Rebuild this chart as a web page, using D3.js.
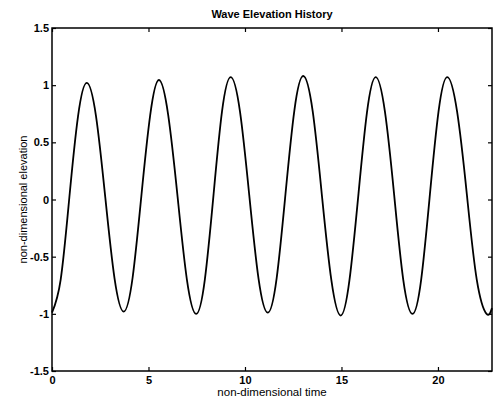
<!DOCTYPE html>
<html>
<head>
<meta charset="utf-8">
<script src="https://cdn.jsdelivr.net/npm/d3@7"></script>
<style>
  body { margin: 0; background: #fff; }
  svg { display: block; font-family: "Liberation Sans", Arial, sans-serif; }
</style>
</head>
<body>
<div id="chart"></div>
<script>
// Wave elevation samples (time, elevation)
const times = [
  0.00, 0.45, 0.90, 1.35, 1.80, 2.28, 2.76, 3.24, 3.72,
  4.18, 4.63, 5.09, 5.54, 6.02, 6.51, 6.99, 7.47,
  7.92, 8.37, 8.81, 9.26, 9.74, 10.22, 10.70, 11.18,
  11.64, 12.10, 12.56, 13.02, 13.51, 13.99, 14.48, 14.96,
  15.41, 15.87, 16.32, 16.77, 17.25, 17.73, 18.20, 18.68,
  19.13, 19.58, 20.03, 20.48, 20.99, 21.50, 22.01, 22.52, 22.80
];
const elevation = [
  -0.99, -0.70, 0.02, 0.73, 1.02, 0.73, 0.02, -0.69, -0.98,
  -0.68, 0.03, 0.74, 1.045, 0.74, 0.02, -0.70, -1.00,
  -0.70, 0.04, 0.77, 1.07, 0.77, 0.04, -0.69, -0.99,
  -0.69, 0.05, 0.78, 1.08, 0.77, 0.03, -0.71, -1.015,
  -0.71, 0.03, 0.76, 1.07, 0.77, 0.04, -0.70, -1.00,
  -0.70, 0.04, 0.77, 1.07, 0.77, 0.04, -0.70, -1.00, -0.95
];
const xTicks = [0, 5, 10, 15, 20];
const yTicks = [-1.5, -1, -0.5, 0, 0.5, 1, 1.5];

const width = 501, height = 403;
const margin = { top: 28, right: 9, bottom: 32, left: 52 };
const w = width - margin.left - margin.right;
const h = height - margin.top - margin.bottom;

const svg = d3.select("#chart").append("svg")
  .attr("width", width)
  .attr("height", height);

const g = svg.append("g")
  .attr("transform", `translate(${margin.left},${margin.top})`);

const x = d3.scaleLinear().domain([0, 22.8]).range([0, w]);
const y = d3.scaleLinear().domain([-1.5, 1.5]).range([h, 0]);

const fmt = d => String(d);

// axes with inward ticks on all four sides (box style)
function styleAxis(sel) {
  sel.select(".domain").remove();
  sel.selectAll("line").attr("stroke", "#000").attr("stroke-width", 1.2);
  sel.selectAll("text").attr("fill", "#000").style("font-size", "11px").style("font-weight", "bold");
}

g.append("g")
  .attr("transform", `translate(0,${h})`)
  .call(d3.axisBottom(x).tickValues(xTicks).tickFormat(fmt).tickSizeInner(-4).tickSizeOuter(0).tickPadding(5))
  .call(styleAxis);

g.append("g")
  .call(d3.axisTop(x).tickValues(xTicks).tickFormat("").tickSizeInner(-4).tickSizeOuter(0))
  .call(styleAxis);

g.append("g")
  .call(d3.axisLeft(y).tickValues(yTicks).tickFormat(fmt).tickSizeInner(-4).tickSizeOuter(0).tickPadding(3))
  .call(styleAxis);

g.append("g")
  .attr("transform", `translate(${w},0)`)
  .call(d3.axisRight(y).tickValues(yTicks).tickFormat("").tickSizeInner(-4).tickSizeOuter(0))
  .call(styleAxis);

// frame
g.append("rect")
  .attr("width", w)
  .attr("height", h)
  .attr("fill", "none")
  .attr("stroke", "#000")
  .attr("stroke-width", 1.5);

// the wave
const pts = times.map((t, i) => [t, elevation[i]]);
g.append("path")
  .datum(pts)
  .attr("fill", "none")
  .attr("stroke", "#000")
  .attr("stroke-width", 1.8)
  .attr("d", d3.line().x(d => x(d[0])).y(d => y(d[1])).curve(d3.curveNatural));

// title and labels
g.append("text")
  .attr("x", w / 2)
  .attr("y", -10)
  .attr("text-anchor", "middle")
  .style("font-size", "11px")
  .style("font-weight", "bold")
  .text("Wave Elevation History");

g.append("text")
  .attr("x", w / 2)
  .attr("y", h + 25)
  .attr("text-anchor", "middle")
  .style("font-size", "11.5px")
  .text("non-dimensional time");

g.append("text")
  .attr("transform", `translate(${-25},${h / 2}) rotate(-90)`)
  .attr("text-anchor", "middle")
  .style("font-size", "11px")
  .text("non-dimensional elevation");
</script>
</body>
</html>
